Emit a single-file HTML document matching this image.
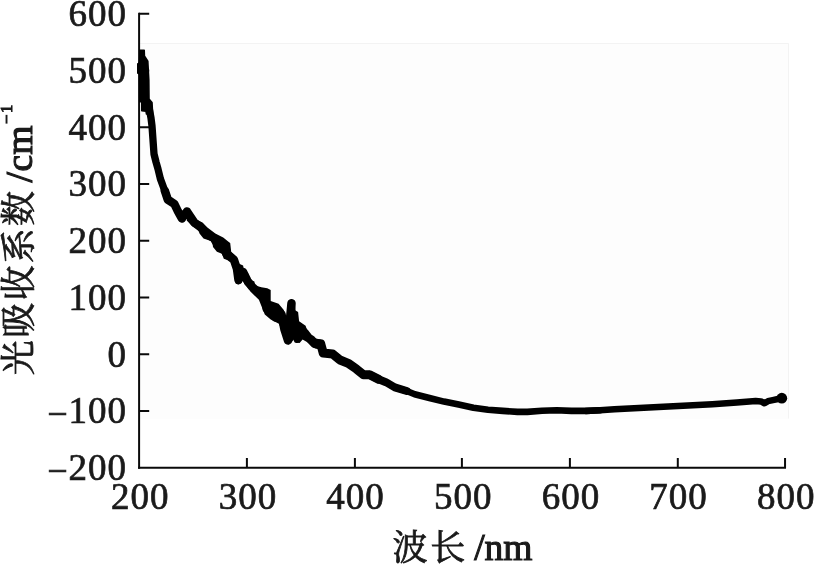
<!DOCTYPE html>
<html lang="zh">
<head>
<meta charset="utf-8">
<title>光吸收系数 /cm−1 — 波长 /nm</title>
<style>
html,body{margin:0;padding:0;background:#fff;}
body{width:817px;height:567px;overflow:hidden;}
svg{display:block;filter:grayscale(1);}
.t{font-family:"Liberation Serif","Noto Serif CJK SC",serif;font-size:37px;fill:#1a1a1a;stroke:#1a1a1a;stroke-width:0.7px;letter-spacing:1px;}
.c{font-family:"Liberation Serif","Noto Serif CJK SC",serif;font-size:37.5px;fill:#1a1a1a;stroke:#1a1a1a;stroke-width:1.1px;}
.k{font-family:"Liberation Serif","Noto Serif CJK SC",serif;font-size:35px;fill:#1a1a1a;stroke:#1a1a1a;stroke-width:0.8px;}
</style>
</head>
<body>
<svg width="817" height="567" viewBox="0 0 817 567">
<rect x="0" y="0" width="817" height="567" fill="#ffffff"/>
<rect x="140" y="43.5" width="648.7" height="375.2" fill="#fdfdfd"/>
<path d="M140,43.5 H788.5 V418.5" fill="none" stroke="#f3f3f3" stroke-width="1"/>
<!-- axes -->
<g stroke="#0a0a0a" stroke-width="2" fill="none" stroke-linecap="butt">
<path d="M139.1,12.7 V468.8"/>
<path d="M138.1,467.8 H786"/>
<!-- y ticks -->
<path d="M139,13.7 H149.2 M139,70.5 H149.2 M139,127.2 H149.2 M139,184.0 H149.2 M139,240.7 H149.2 M139,297.5 H149.2 M139,354.3 H149.2 M139,411.0 H149.2"/>
<!-- x ticks -->
<path d="M246.90,468 V458 M354.90,468 V458 M461.90,468 V458 M569.90,468 V458 M677.80,468 V458 M785.05,468 V458"/>
</g>
<!-- y labels -->
<g class="t" text-anchor="end">
<text x="127" y="26.1">600</text>
<text x="127" y="82.9">500</text>
<text x="127" y="139.6">400</text>
<text x="127" y="196.4">300</text>
<text x="127" y="253.1">200</text>
<text x="127" y="309.9">100</text>
<text x="127" y="366.7">0</text>
<text x="127" y="423.4"><tspan font-size="36" dy="2.6">−</tspan><tspan dy="-2.6">100</tspan></text>
<text x="127" y="480.2"><tspan font-size="36" dy="2.6">−</tspan><tspan dy="-2.6">200</tspan></text>
</g>
<!-- x labels -->
<g class="t" text-anchor="middle">
<text x="140.3" y="508.5">200</text>
<text x="247.9" y="508.5">300</text>
<text x="355.6" y="508.5">400</text>
<text x="463.3" y="508.5">500</text>
<text x="570.9" y="508.5">600</text>
<text x="678.6" y="508.5">700</text>
<text x="786.2" y="508.5">800</text>
</g>
<!-- axis titles -->
<text class="k" x="392.4 430.2" y="559.6">波长</text>
<text class="c" x="474.3 484.4" y="559.6">/nm</text>
<g transform="translate(30.4,0) rotate(-90)">
<text class="k" x="-375.2 -337.8 -300.5 -263.2 -225.9" y="0.5">光吸收系数</text>
<text class="c" x="-182.4 -171.4" y="1.3">/cm</text><text class="c" x="-123.9 -112.9" y="-18" style="font-size:16.5px">−1</text>
</g>
<!-- curve -->
<g fill="none" stroke="#000" stroke-linejoin="round" stroke-linecap="round">
<path stroke-width="1.6" fill="#000" d="M140.0,50.3 L144.2,50.3 L144.4,56.0 L147.8,61.3 L148.1,67.0 L148.8,80.0 L149.0,99.0 L152.0,102.5 L152.6,114.0 L146.5,114.0 L146.0,111.3 L141.8,110.8 L141.8,101.8 L139.8,101.8 L139.6,74.2 L137.8,73.0 L137.8,63.8 L139.6,62.6Z"/>
<path stroke-width="7.3" d="M149.5,110.0 L151.0,118.0 L152.0,126.0 L153.0,140.0 L154.0,154.0 L156.0,162.0 L158.0,169.0 L160.4,178.9 L164.8,190.7 L167.8,199.6"/>
<path stroke-width="8.5" d="M164.8,190.7 L167.8,199.6 L174.4,204.0 L178.0,211.5 L181.9,218.5 L187.0,211.5 L190.0,216.0 L194.4,222.6 L200.4,227.0 L206.3,233.7 L213.7,238.0 L216.3,242.2 L222.2,245.2 L226.7,254.0 L234.0,260.0 L237.0,269.0 L238.5,280.0 L243.0,272.0 L247.4,280.7 L251.9,286.7 L257.8,292.2 L265.2,293.7 L266.7,308.5 L274.0,308.5 L275.6,317.4 L281.5,314.4 L284.4,329.3 L288.0,340.5 L291.5,303.2"/>
<path stroke-width="7.0" d="M288.0,340.5 L291.5,303.2 L293.0,325.0 L297.0,339.5 L299.3,326.3 L305.2,332.2 L311.0,339.6 L314.8,343.7"/>
<path stroke-width="9.0" d="M311.0,339.6 L314.8,343.7 L320.7,343.7 L323.2,353.0 L332.6,354.0 L340.0,360.0 L348.9,363.7 L356.3,368.9 L363.5,374.7 L369.6,374.8 L378.5,379.3"/>
<path stroke-width="7.9" d="M369.6,374.8 L378.5,379.3 L385.9,382.2 L394.8,387.4 L406.7,391.0"/>
<path stroke-width="6.6" d="M394.8,387.4 L406.7,391.0 L414.7,394.3 L429.4,398.0 L444.0,401.6 L458.7,404.6 L473.4,407.7 L488.0,409.7 L502.8,410.9 L517.5,411.9 L527.3,411.9 L542.0,410.7 L556.7,410.2 L571.4,410.9 L586.0,410.9 L600.0,410.2"/>
<path stroke-width="6.5" d="M586.0,410.9 L600.0,410.2 L614.5,409.2 L639.0,408.0 L663.4,406.7 L688.0,405.5 L712.4,404.2 L736.9,402.6 L755.7,401.0 L761.0,401.4 L764.5,403.3 L768.0,401.2 L772.8,400.1 L778.0,399.0 L781.6,398.3"/>
<path stroke="none" fill="#000" d="M189.6,208.8 L193.6,218.6 L202.5,222.6 L207.4,227.5 L215.3,233.5 L223.2,237.4 L229.1,242.3 L230.2,243.0 L231.2,251.8 L236.7,256.7 L238.6,263.6 L243.1,265.6 L244.1,270.6 L248.0,273.0 L249.5,279.4 L254.4,281.4 L255.0,285.4 L261.4,287.3 L267.3,288.3 L270.7,290.0 L270.7,301.0 L278.6,303.7 L283.8,309.9 L285.8,316.8 L288.3,316.8 L288.3,300.8 L291.5,299.9 L294.7,300.8 L294.7,309.9 L298.1,311.9 L299.1,321.2 L305.6,325.7 L307.5,331.6 L311.5,337.5 L320.4,339.5 L326.3,348.4 L321.4,355.3 L319.4,349.4 L315.4,348.4 L309.5,343.5 L302.6,339.5 L299.6,343.0 L295.7,342.5 L293.7,339.5 L292.2,341.5 L288.3,344.4 L284.8,341.5 L282.8,332.6 L278.9,323.7 L270.7,319.5 L264.8,314.6 L258.9,299.8 L250.0,290.9 L249.5,289.3 L244.6,284.4 L242.6,280.0 L241.6,282.9 L238.6,284.4 L235.7,283.4 L234.7,277.5 L233.2,266.6 L230.7,261.2 L223.8,258.7 L221.9,253.8 L216.9,251.8 L213.0,246.9 L212.3,241.4 L203.5,238.4 L199.5,233.5 L198.5,229.5 L192.6,226.5 L186.7,220.6Z"/>
<circle cx="183.9" cy="216.2" r="3.1" fill="#000" stroke="none"/>
<circle cx="781.8" cy="398.2" r="5.4" fill="#000" stroke="none"/>
</g>
</svg>
</body>
</html>
